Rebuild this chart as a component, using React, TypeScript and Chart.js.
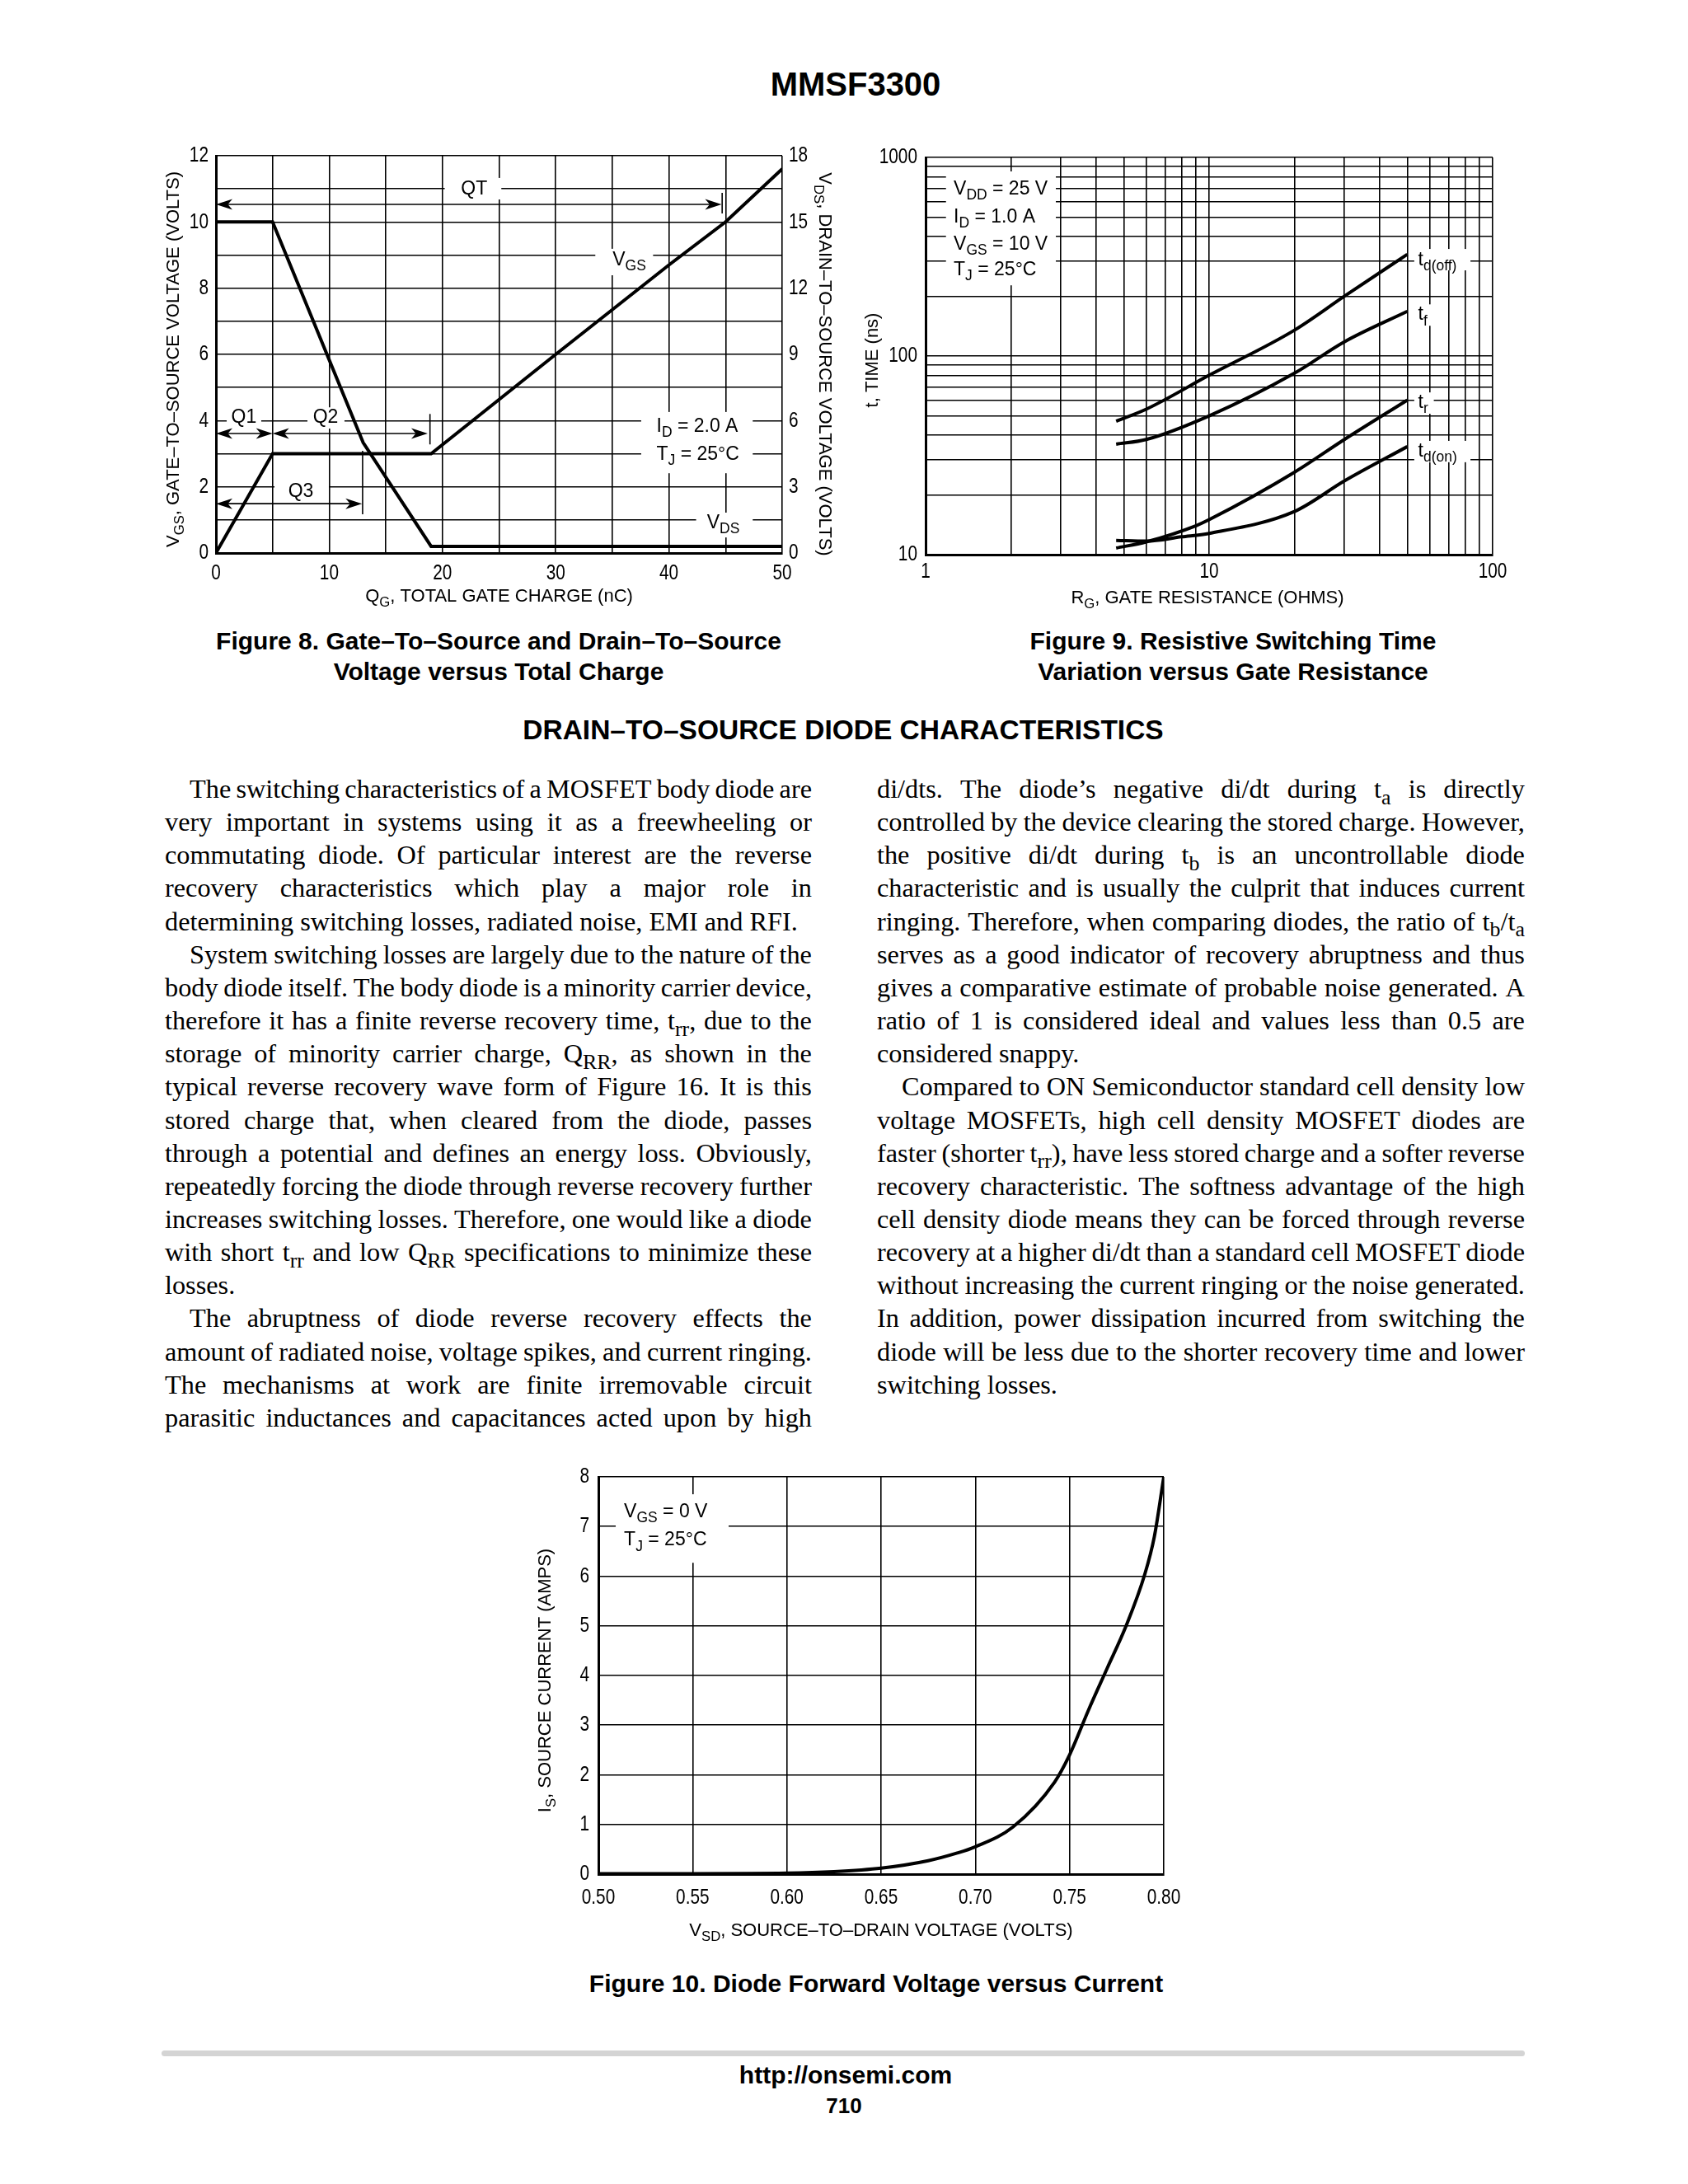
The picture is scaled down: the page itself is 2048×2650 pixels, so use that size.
import React, { useEffect, useRef } from 'react';
import { Chart, registerables } from 'chart.js';
Chart.register(...registerables);

const HELV = "'Liberation Sans', Arial, Helvetica, sans-serif";
const SANS = "'Liberation Sans', Arial, Helvetica, sans-serif";
const SERIF = "'Liberation Serif', 'Times New Roman', Times, serif";
const TICK_SCALE = 0.8; // condensed look for tick labels

// ---------------- Figure 8 data ----------------
const fig8VgsCharge = [0, 5, 19, 30, 40, 45, 50];
const fig8Vgs = [0, 3, 3, 6, 8.7, 10, 11.6];
const fig8VdsCharge = [0, 5, 13, 19, 50];
const fig8Vds = [15, 15, 5, 0.3, 0.3];
const fig8XLabelValues = [0, 10, 20, 30, 40, 50];
const fig8YLabelValues = [0, 2, 4, 6, 8, 10, 12];

// ---------------- Figure 9 data ----------------
const fig9XGrid = [1, 2, 3, 4, 5, 6, 7, 8, 9, 10, 20, 30, 40, 50, 60, 70, 80, 90, 100];
const fig9YGrid = [10, 20, 30, 40, 50, 60, 70, 80, 90, 100, 200, 300, 400, 500, 600, 700, 800, 900, 1000];
const fig9XLabelValues = [1, 10, 100];
const fig9YLabelValues = [10, 100, 1000];
const fig9TdOffRg = [4.7, 6, 10, 20, 30, 50];
const fig9TdOff = [47, 54, 80, 135, 200, 325];
const fig9TfRg = [4.7, 6, 10, 20, 30, 50];
const fig9Tf = [36, 38, 50, 82, 118, 168];
const fig9TrRg = [4.7, 6, 9, 10, 20, 30, 50];
const fig9Tr = [10.8, 11.6, 14, 15, 26, 38, 60];
const fig9TdOnRg = [4.7, 6, 8, 10, 20, 30, 50];
const fig9TdOn = [11.8, 11.7, 12.3, 12.8, 16.5, 23.5, 35];

// ---------------- Figure 10 data ----------------
const fig10Vsd = [0.5, 0.55, 0.6, 0.625, 0.65, 0.675, 0.69, 0.7, 0.72, 0.742, 0.75, 0.76, 0.77, 0.78, 0.79, 0.795, 0.8];
const fig10Is = [0.01, 0.01, 0.02, 0.05, 0.12, 0.27, 0.42, 0.55, 0.95, 1.85, 2.4, 3.3, 4.15, 5.0, 6.05, 6.8, 8.0];
const fig10XGrid = [0.5, 0.55, 0.6, 0.65, 0.7, 0.75, 0.8];

// ---------------- body text ----------------
type Line = { t: string; indent?: boolean; last?: boolean };
const bodyLeft: Line[] = [
  { t: 'The switching characteristics of a MOSFET body diode are', indent: true },
  { t: 'very important in systems using it as a freewheeling or' },
  { t: 'commutating diode. Of particular interest are the reverse' },
  { t: 'recovery characteristics which play a major role in' },
  { t: 'determining switching losses, radiated noise, EMI and RFI.', last: true },
  { t: 'System switching losses are largely due to the nature of the', indent: true },
  { t: 'body diode itself. The body diode is a minority carrier device,' },
  { t: 'therefore it has a finite reverse recovery time, t_{rr}, due to the' },
  { t: 'storage of minority carrier charge, Q_{RR}, as shown in the' },
  { t: 'typical reverse recovery wave form of Figure 16. It is this' },
  { t: 'stored charge that, when cleared from the diode, passes' },
  { t: 'through a potential and defines an energy loss. Obviously,' },
  { t: 'repeatedly forcing the diode through reverse recovery further' },
  { t: 'increases switching losses. Therefore, one would like a diode' },
  { t: 'with short t_{rr} and low Q_{RR} specifications to minimize these' },
  { t: 'losses.', last: true },
  { t: 'The abruptness of diode reverse recovery effects the', indent: true },
  { t: 'amount of radiated noise, voltage spikes, and current ringing.' },
  { t: 'The mechanisms at work are finite irremovable circuit' },
  { t: 'parasitic inductances and capacitances acted upon by high' },
];
const bodyRight: Line[] = [
  { t: 'di/dts. The diode\u2019s negative di/dt during t_{a} is directly' },
  { t: 'controlled by the device clearing the stored charge. However,' },
  { t: 'the positive di/dt during t_{b} is an uncontrollable diode' },
  { t: 'characteristic and is usually the culprit that induces current' },
  { t: 'ringing. Therefore, when comparing diodes, the ratio of t_{b}/t_{a}' },
  { t: 'serves as a good indicator of recovery abruptness and thus' },
  { t: 'gives a comparative estimate of probable noise generated. A' },
  { t: 'ratio of 1 is considered ideal and values less than 0.5 are' },
  { t: 'considered snappy.', last: true },
  { t: 'Compared to ON Semiconductor standard cell density low', indent: true },
  { t: 'voltage MOSFETs, high cell density MOSFET diodes are' },
  { t: 'faster (shorter t_{rr}), have less stored charge and a softer reverse' },
  { t: 'recovery characteristic. The softness advantage of the high' },
  { t: 'cell density diode means they can be forced through reverse' },
  { t: 'recovery at a higher di/dt than a standard cell MOSFET diode' },
  { t: 'without increasing the current ringing or the noise generated.' },
  { t: 'In addition, power dissipation incurred from switching the' },
  { t: 'diode will be less due to the shorter recovery time and lower' },
  { t: 'switching losses.', last: true },
];

// ---------------- canvas text helpers ----------------
let textScale = TICK_SCALE;
function condenseContext(canvas: HTMLCanvasElement) {
  const ctx = canvas.getContext('2d') as any;
  if (!ctx || ctx.__condensed) return;
  const fill = ctx.fillText.bind(ctx);
  const measure = ctx.measureText.bind(ctx);
  ctx.fillText = (text: string, x: number, y: number) => {
    if (textScale === 1) { fill(text, x, y); return; }
    ctx.save();
    ctx.translate(x, y);
    ctx.scale(textScale, 1);
    fill(text, 0, 0);
    ctx.restore();
  };
  ctx.measureText = (text: string) => {
    const m = measure(text);
    if (textScale === 1) return m;
    return {
      width: m.width * textScale,
      actualBoundingBoxAscent: m.actualBoundingBoxAscent,
      actualBoundingBoxDescent: m.actualBoundingBoxDescent,
      actualBoundingBoxLeft: m.actualBoundingBoxLeft * textScale,
      actualBoundingBoxRight: m.actualBoundingBoxRight * textScale,
      fontBoundingBoxAscent: m.fontBoundingBoxAscent,
      fontBoundingBoxDescent: m.fontBoundingBoxDescent,
    };
  };
  ctx.__condensed = true;
}

type Part = { t: string; sub?: boolean };
function parseRich(s: string): Part[] {
  const out: Part[] = [];
  const re = /_\{([^}]*)\}/g;
  let last = 0;
  let m: RegExpExecArray | null;
  while ((m = re.exec(s))) {
    if (m.index > last) out.push({ t: s.slice(last, m.index) });
    out.push({ t: m[1], sub: true });
    last = re.lastIndex;
  }
  if (last < s.length) out.push({ t: s.slice(last) });
  return out;
}

function drawRich(ctx: CanvasRenderingContext2D, text: string, x: number, y: number, size: number,
  align: 'left' | 'center' | 'right', rotation = 0) {
  const parts = parseRich(text);
  const subSize = size * 0.76;
  const fMain = `${size}px ${HELV}`;
  const fSub = `${subSize}px ${HELV}`;
  let w = 0;
  const widths = parts.map((p) => {
    ctx.font = p.sub ? fSub : fMain;
    const ww = ctx.measureText(p.t).width;
    w += ww;
    return ww;
  });
  ctx.save();
  ctx.translate(x, y);
  ctx.rotate(rotation);
  let cx = align === 'left' ? 0 : align === 'center' ? -w / 2 : -w;
  ctx.fillStyle = '#000';
  ctx.textBaseline = 'middle';
  ctx.textAlign = 'left';
  parts.forEach((p, i) => {
    ctx.font = p.sub ? fSub : fMain;
    ctx.fillText(p.t, cx, p.sub ? size * 0.33 : 0);
    cx += widths[i];
  });
  ctx.restore();
}

function arrowHead(ctx: CanvasRenderingContext2D, x: number, y: number, dir: number) {
  const L = 20, W = 6.5;
  ctx.beginPath();
  ctx.moveTo(x, y);
  ctx.lineTo(x - dir * L, y - W);
  ctx.lineTo(x - dir * L * 0.72, y);
  ctx.lineTo(x - dir * L, y + W);
  ctx.closePath();
  ctx.fill();
}

type Ann = {
  yId: string;
  boxes: number[][];
  texts: { text: string; x: number; y: number; align: 'left' | 'center' | 'right' }[];
  arrows: { y: number; x0: number; x1: number }[];
  bars: { x: number; y0: number; y1: number }[];
  size: number;
  titles: { text: string; side: 'left' | 'right' | 'bottom'; off: number; shift: number }[];
  titleSize: number;
};

function annPlugin(a: Ann) {
  return {
    id: 'annotations',
    beforeDatasetsDraw(chart: any) {
      const ctx: CanvasRenderingContext2D = chart.ctx;
      const xs = chart.scales.x;
      const ys = chart.scales[a.yId];
      textScale = 1;
      ctx.save();
      ctx.fillStyle = '#fff';
      a.boxes.forEach(([x0, x1, y0, y1]) => {
        const px0 = xs.getPixelForValue(x0), px1 = xs.getPixelForValue(x1);
        const py0 = ys.getPixelForValue(y0), py1 = ys.getPixelForValue(y1);
        ctx.fillRect(Math.min(px0, px1), Math.min(py0, py1), Math.abs(px1 - px0), Math.abs(py1 - py0));
      });
      ctx.strokeStyle = '#000';
      ctx.fillStyle = '#000';
      ctx.lineWidth = 1.6;
      a.arrows.forEach((ar) => {
        const y = ys.getPixelForValue(ar.y);
        const x0 = xs.getPixelForValue(ar.x0), x1 = xs.getPixelForValue(ar.x1);
        ctx.beginPath();
        ctx.moveTo(x0 + 8, y);
        ctx.lineTo(x1 - 8, y);
        ctx.stroke();
        arrowHead(ctx, x0, y, -1);
        arrowHead(ctx, x1, y, 1);
      });
      a.bars.forEach((b) => {
        const x = xs.getPixelForValue(b.x);
        ctx.beginPath();
        ctx.moveTo(x, ys.getPixelForValue(b.y0));
        ctx.lineTo(x, ys.getPixelForValue(b.y1));
        ctx.stroke();
      });
      a.texts.forEach((t) => {
        drawRich(ctx, t.text, xs.getPixelForValue(t.x), ys.getPixelForValue(t.y), a.size, t.align);
      });
      ctx.restore();
      textScale = TICK_SCALE;
    },
    afterDraw(chart: any) {
      const ctx: CanvasRenderingContext2D = chart.ctx;
      const ca = chart.chartArea;
      const cx = (ca.left + ca.right) / 2;
      const cy = (ca.top + ca.bottom) / 2;
      textScale = 1;
      a.titles.forEach((t) => {
        if (t.side === 'left') drawRich(ctx, t.text, ca.left - t.off, cy + t.shift, a.titleSize, 'center', -Math.PI / 2);
        else if (t.side === 'right') drawRich(ctx, t.text, ca.right + t.off, cy + t.shift, a.titleSize, 'center', Math.PI / 2);
        else drawRich(ctx, t.text, cx + t.shift, ca.bottom + t.off, a.titleSize, 'center');
      });
      textScale = TICK_SCALE;
    },
  };
}

const tickFont = { family: HELV, size: 26 };
const gridOpts = () => ({ color: '#000', lineWidth: 1.6, drawTicks: false });
const borderOpts = () => ({ display: true, color: '#000', width: 3 });
const lineStyle = { borderColor: '#000', borderWidth: 4, pointRadius: 0, fill: false, tension: 0 };

function fig8(canvas: HTMLCanvasElement) {
  condenseContext(canvas);
  return new Chart(canvas, {
    type: 'line',
    data: {
      datasets: [
        { data: fig8VgsCharge.map((x, i) => ({ x, y: fig8Vgs[i] })), yAxisID: 'y', ...lineStyle },
        { data: fig8VdsCharge.map((x, i) => ({ x, y: fig8Vds[i] })), yAxisID: 'y1', ...lineStyle },
      ],
    },
    options: {
      animation: false, responsive: false, devicePixelRatio: 1,
      layout: { padding: { top: 29, left: 0, right: 0, bottom: 0 } },
      plugins: { legend: { display: false }, tooltip: { enabled: false } },
      scales: {
        x: {
          type: 'linear', min: 0, max: 50,
          ticks: { stepSize: 5, autoSkip: false, maxRotation: 0, padding: 9, font: tickFont, color: '#000',
            callback: (v: any) => (fig8XLabelValues.includes(Number(v)) ? String(v) : '') },
          grid: gridOpts(), border: borderOpts(),
          afterFit: (s: any) => { s.height = 89; },
        },
        y: {
          type: 'linear', position: 'left', min: 0, max: 12,
          ticks: { stepSize: 1, autoSkip: false, padding: 9, font: tickFont, color: '#000',
            callback: (v: any) => (fig8YLabelValues.includes(Number(v)) ? String(v) : '') },
          grid: gridOpts(), border: borderOpts(),
          afterFit: (s: any) => { s.width = 82; },
        },
        y1: {
          type: 'linear', position: 'right', min: 0, max: 18,
          ticks: { stepSize: 3, autoSkip: false, padding: 8, font: tickFont, color: '#000' },
          grid: { display: false, drawTicks: false }, border: { display: false },
          afterFit: (s: any) => { s.width = 81; },
        },
      },
    } as any,
    plugins: [annPlugin({
      yId: 'y',
      size: 23,
      titleSize: 22,
      boxes: [
        [20.2, 25.2, 10.68, 11.33],
        [33.5, 38.6, 8.39, 9.19],
        [0.95, 4.0, 3.76, 4.4],
        [8.08, 11.35, 3.76, 4.4],
        [5.17, 9.97, 1.55, 2.15],
        [37.55, 47.4, 2.41, 4.26],
        [42.4, 47.4, 0.47, 1.22],
      ],
      texts: [
        { text: 'QT', x: 22.8, y: 10.98, align: 'center' },
        { text: 'V_{GS}', x: 36.5, y: 8.85, align: 'center' },
        { text: 'Q1', x: 2.47, y: 4.1, align: 'center' },
        { text: 'Q2', x: 9.68, y: 4.1, align: 'center' },
        { text: 'Q3', x: 7.5, y: 1.86, align: 'center' },
        { text: 'I_{D} = 2.0 A', x: 38.9, y: 3.82, align: 'left' },
        { text: 'T_{J} = 25\u00B0C', x: 38.9, y: 2.97, align: 'left' },
        { text: 'V_{DS}', x: 44.8, y: 0.9, align: 'center' },
      ],
      arrows: [
        { y: 10.53, x0: 0, x1: 44.65 },
        { y: 3.61, x0: 0, x1: 5 },
        { y: 3.61, x0: 5, x1: 18.7 },
        { y: 1.49, x0: 0, x1: 12.9 },
      ],
      bars: [
        { x: 44.7, y0: 10.26, y1: 10.88 },
        { x: 18.9, y0: 3.28, y1: 4.2 },
        { x: 12.95, y0: 1.17, y1: 3.09 },
      ],
      titles: [
        { text: 'V_{GS}, GATE\u2013TO\u2013SOURCE VOLTAGE (VOLTS)', side: 'left', off: 51, shift: 6 },
        { text: 'V_{DS}, DRAIN\u2013TO\u2013SOURCE VOLTAGE (VOLTS)', side: 'right', off: 51, shift: 12 },
        { text: 'Q_{G}, TOTAL GATE CHARGE (nC)', side: 'bottom', off: 53, shift: 0 },
      ],
    })],
  });
}

function fig9(canvas: HTMLCanvasElement) {
  condenseContext(canvas);
  const mk = (xs: number[], ys: number[]) => xs.map((x, i) => ({ x, y: ys[i] }));
  const ls = { ...lineStyle, cubicInterpolationMode: 'monotone' as const };
  return new Chart(canvas, {
    type: 'line',
    data: {
      datasets: [
        { data: mk(fig9TdOffRg, fig9TdOff), ...ls },
        { data: mk(fig9TfRg, fig9Tf), ...ls },
        { data: mk(fig9TrRg, fig9Tr), ...ls },
        { data: mk(fig9TdOnRg, fig9TdOn), ...ls },
      ],
    },
    options: {
      animation: false, responsive: false, devicePixelRatio: 1,
      layout: { padding: { top: 31, left: 0, right: 49, bottom: 0 } },
      plugins: { legend: { display: false }, tooltip: { enabled: false } },
      scales: {
        x: {
          type: 'logarithmic', min: 1, max: 100,
          afterBuildTicks: (s: any) => { s.ticks = fig9XGrid.map((v) => ({ value: v })); },
          ticks: { autoSkip: false, maxRotation: 0, padding: 5, font: tickFont, color: '#000',
            callback: (v: any) => (fig9XLabelValues.includes(Number(v)) ? String(v) : '') },
          grid: gridOpts(), border: borderOpts(),
          afterFit: (s: any) => { s.height = 87; },
        },
        y: {
          type: 'logarithmic', position: 'left', min: 10, max: 1000,
          afterBuildTicks: (s: any) => { s.ticks = fig9YGrid.map((v) => ({ value: v })); },
          ticks: { autoSkip: false, padding: 10, font: tickFont, color: '#000',
            callback: (v: any) => (fig9YLabelValues.includes(Number(v)) ? String(v) : '') },
          grid: gridOpts(), border: borderOpts(),
          afterFit: (s: any) => { s.width = 113; },
        },
      },
    } as any,
    plugins: [annPlugin({
      yId: 'y',
      size: 23,
      titleSize: 22,
      boxes: [
        [1.18, 2.88, 227, 850],
        [52.9, 83.5, 270, 346],
        [52.9, 62.0, 142, 182],
        [52.9, 62.0, 51.2, 65.6],
        [52.9, 83.5, 29.2, 37.4],
      ],
      texts: [
        { text: 'V_{DD} = 25 V', x: 1.256, y: 689, align: 'left' },
        { text: 'I_{D} = 1.0 A', x: 1.256, y: 498, align: 'left' },
        { text: 'V_{GS} = 10 V', x: 1.256, y: 366, align: 'left' },
        { text: 'T_{J} = 25\u00B0C', x: 1.256, y: 270, align: 'left' },
        { text: 't_{d(off)}', x: 54.6, y: 305, align: 'left' },
        { text: 't_{f}', x: 54.6, y: 161, align: 'left' },
        { text: 't_{r}', x: 54.6, y: 58, align: 'left' },
        { text: 't_{d(on)}', x: 54.6, y: 33, align: 'left' },
      ],
      arrows: [],
      bars: [],
      titles: [
        { text: 't, TIME (ns)', side: 'left', off: 64, shift: 5 },
        { text: 'R_{G}, GATE RESISTANCE (OHMS)', side: 'bottom', off: 53, shift: -2 },
      ],
    })],
  });
}

function fig10(canvas: HTMLCanvasElement) {
  condenseContext(canvas);
  return new Chart(canvas, {
    type: 'line',
    data: {
      datasets: [
        { data: fig10Vsd.map((x, i) => ({ x, y: fig10Is[i] })), ...lineStyle, cubicInterpolationMode: 'monotone' },
      ],
    },
    options: {
      animation: false, responsive: false, devicePixelRatio: 1,
      layout: { padding: { top: 32, left: 0, right: 58, bottom: 0 } },
      plugins: { legend: { display: false }, tooltip: { enabled: false } },
      scales: {
        x: {
          type: 'linear', min: 0.5, max: 0.8,
          afterBuildTicks: (s: any) => { s.ticks = fig10XGrid.map((v) => ({ value: v })); },
          ticks: { autoSkip: false, maxRotation: 0, padding: 13, font: tickFont, color: '#000',
            callback: (v: any) => Number(v).toFixed(2) },
          grid: gridOpts(), border: borderOpts(),
          afterFit: (s: any) => { s.height = 106; },
        },
        y: {
          type: 'linear', position: 'left', min: 0, max: 8,
          ticks: { stepSize: 1, autoSkip: false, padding: 11, font: tickFont, color: '#000' },
          grid: gridOpts(), border: borderOpts(),
          afterFit: (s: any) => { s.width = 106; },
        },
      },
    } as any,
    plugins: [annPlugin({
      yId: 'y',
      size: 23,
      titleSize: 22,
      boxes: [[0.5092, 0.5691, 6.27, 7.65]],
      texts: [
        { text: 'V_{GS} = 0 V', x: 0.5136, y: 7.29, align: 'left' },
        { text: 'T_{J} = 25\u00B0C', x: 0.5136, y: 6.72, align: 'left' },
      ],
      arrows: [],
      bars: [],
      titles: [
        { text: 'I_{S}, SOURCE CURRENT (AMPS)', side: 'left', off: 64, shift: 6 },
        { text: 'V_{SD}, SOURCE\u2013TO\u2013DRAIN VOLTAGE (VOLTS)', side: 'bottom', off: 69, shift: 0 },
      ],
    })],
  });
}

// ---------------- HTML helpers ----------------
function richNodes(s: string) {
  return parseRich(s).map((p, i) =>
    p.sub ? (
      <span key={i} style={{ fontSize: '0.8em', position: 'relative', top: '0.3em' }}>{p.t}</span>
    ) : (
      <React.Fragment key={i}>{p.t}</React.Fragment>
    )
  );
}

const LH = 40.15;
function Column({ lines, left, top, width }: { lines: Line[]; left: number; top: number; width: number }) {
  return (
    <>
      {lines.map((ln, i) => {
        const words = ln.t.split(' ');
        return (
          <div key={i} style={{
            position: 'absolute', left, top: top + i * LH, width, height: LH,
            display: 'flex', justifyContent: ln.last ? 'flex-start' : 'space-between',
            columnGap: ln.last ? '0.25em' : 0,
            paddingLeft: ln.indent ? 30 : 0, boxSizing: 'border-box',
            fontFamily: SERIF, fontSize: 32.3, lineHeight: `${LH}px`, whiteSpace: 'nowrap', color: '#000',
          }}>
            {words.map((w, j) => <span key={j}>{richNodes(w)}</span>)}
          </div>
        );
      })}
    </>
  );
}

function Txt({ x, y, size, bold, children }: { x: number; y: number; size: number; bold?: boolean; children: React.ReactNode }) {
  return (
    <div style={{
      position: 'absolute', left: x, top: y, transform: 'translate(-50%, -50%)',
      fontFamily: SANS, fontSize: size, fontWeight: bold ? 700 : 400, lineHeight: 1,
      whiteSpace: 'nowrap', color: '#000',
    }}>{children}</div>
  );
}

export default function App() {
  const c8 = useRef<HTMLCanvasElement>(null);
  const c9 = useRef<HTMLCanvasElement>(null);
  const c10 = useRef<HTMLCanvasElement>(null);

  useEffect(() => {
    Chart.defaults.font.family = HELV;
    const charts = [fig8(c8.current!), fig9(c9.current!), fig10(c10.current!)];
    return () => charts.forEach((c) => c.destroy());
  }, []);

  return (
    <div style={{ position: 'absolute', left: 0, top: 0, width: 2048, height: 2650, background: '#fff', overflow: 'hidden' }}>
      <Txt x={1038} y={102} size={40} bold>MMSF3300</Txt>

      <canvas ref={c8} width={850} height={600} style={{ position: 'absolute', left: 180, top: 160 }} />
      <canvas ref={c9} width={850} height={600} style={{ position: 'absolute', left: 1010, top: 160 }} />
      <canvas ref={c10} width={850} height={620} style={{ position: 'absolute', left: 620, top: 1760 }} />

      <Txt x={605} y={778} size={30} bold>Figure 8. Gate{'\u2013'}To{'\u2013'}Source and Drain{'\u2013'}To{'\u2013'}Source</Txt>
      <Txt x={605} y={815} size={30} bold>Voltage versus Total Charge</Txt>
      <Txt x={1496} y={778} size={30} bold>Figure 9. Resistive Switching Time</Txt>
      <Txt x={1496} y={815} size={30} bold>Variation versus Gate Resistance</Txt>

      <Txt x={1023} y={886} size={33.5} bold>DRAIN{'\u2013'}TO{'\u2013'}SOURCE DIODE CHARACTERISTICS</Txt>

      <Column lines={bodyLeft} left={200} top={937} width={785} />
      <Column lines={bodyRight} left={1064} top={937} width={786} />

      <Txt x={1063} y={2407} size={30} bold>Figure 10. Diode Forward Voltage versus Current</Txt>

      <div style={{ position: 'absolute', left: 196, top: 2488, width: 1654, height: 7, background: '#d4d4d4', borderRadius: 4 }} />
      <Txt x={1026} y={2518} size={30} bold>http://onsemi.com</Txt>
      <Txt x={1024} y={2555} size={26} bold>710</Txt>
    </div>
  );
}
